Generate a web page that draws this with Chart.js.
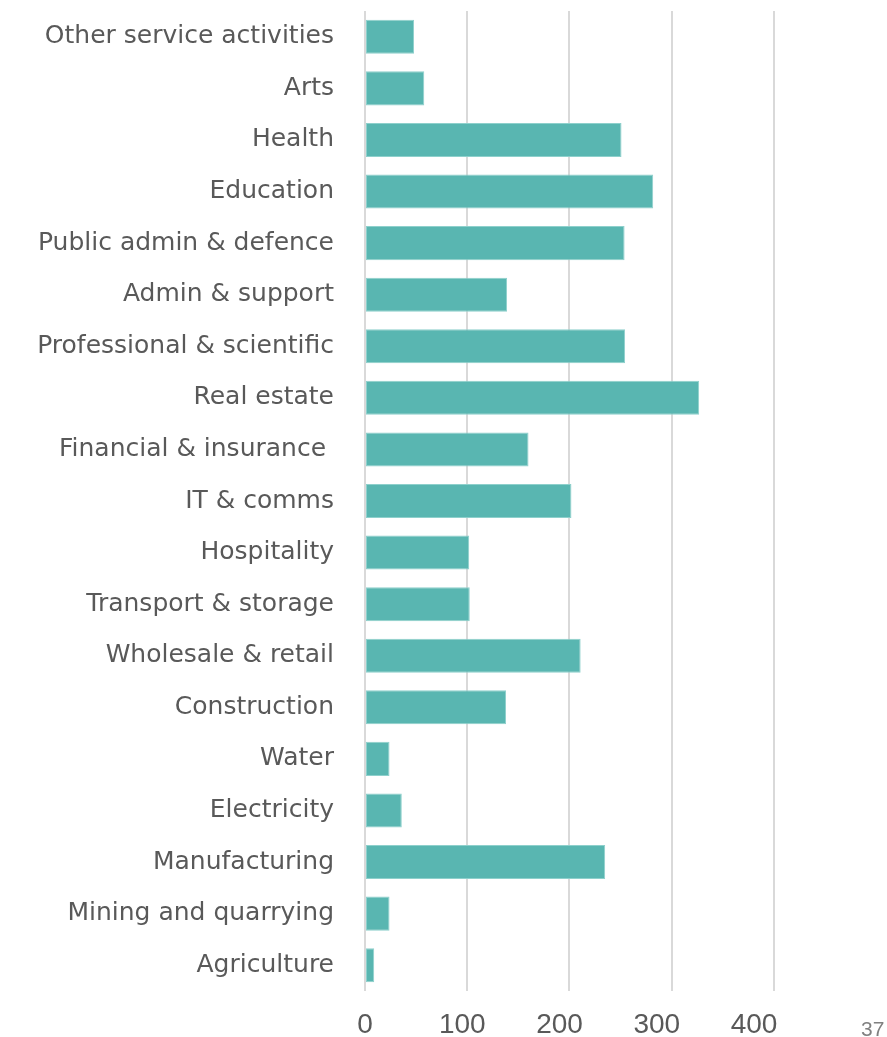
<!DOCTYPE html>
<html>
<head>
<meta charset="utf-8">
<script src="https://cdn.jsdelivr.net/npm/chart.js@4/dist/chart.umd.min.js"></script>
<style>
  html, body { margin: 0; padding: 0; background: #ffffff; overflow: hidden; }
  #wrap { position: relative; width: 887px; height: 1037px; }
  #page { position: absolute; left: 861px; top: 1017px; font-family: "Liberation Sans", sans-serif; font-size: 21px; color: #808080; }
</style>
</head>
<body>
<div id="wrap">
  <canvas id="c" width="887" height="1037"></canvas>
  <div id="page">37</div>
</div>
<script>
const categories = [
  "Other service activities",
  "Arts",
  "Health",
  "Education",
  "Public admin & defence",
  "Admin & support",
  "Professional & scientific",
  "Real estate",
  "Financial & insurance ",
  "IT & comms",
  "Hospitality",
  "Transport & storage",
  "Wholesale & retail",
  "Construction",
  "Water",
  "Electricity",
  "Manufacturing",
  "Mining and quarrying",
  "Agriculture"
];
const values = [48, 58, 251, 282, 254, 139, 254.5, 327, 160, 202, 102, 102.5, 211, 138, 24, 36, 235, 24, 9];
const tickValues = [0, 100, 200, 300, 400];

const PLOT_LEFT = 365;
const PAD_LEFT = 0;

new Chart(document.getElementById('c'), {
  type: 'bar',
  data: {
    labels: categories,
    datasets: [{
      data: values,
      backgroundColor: '#59b6b1',
      borderColor: '#8ed0cc',
      borderWidth: 1,
      borderSkipped: false,
      barPercentage: 0.66,
      categoryPercentage: 1.0,
      xAxisID: 'x'
    }]
  },
  options: {
    indexAxis: 'y',
    responsive: false,
    animation: false,
    devicePixelRatio: 1,
    layout: { padding: { top: 11, right: 11, bottom: 0, left: PAD_LEFT } },
    plugins: { legend: { display: false }, tooltip: { enabled: false } },
    scales: {
      y: {
        grid: { display: false, drawTicks: false },
        border: { display: false },
        ticks: {
          color: '#595959',
          font: { family: "DejaVu Sans", size: 25 },
          padding: 31
        },
        afterFit: (s) => {
          s.width = PLOT_LEFT - PAD_LEFT;
          s.paddingTop = 0; s.paddingBottom = 0;
        }
      },
      x: {
        position: 'bottom',
        min: 0,
        max: 500,
        grid: {
          color: (ctx) => (ctx.tick && tickValues.includes(ctx.tick.value)) ? '#d9d9d9' : 'rgba(0,0,0,0)',
          lineWidth: 2,
          drawTicks: false
        },
        border: { display: false },
        ticks: { display: false, stepSize: 100 },
        afterFit: (s) => { s.height = 0; s.paddingLeft = 0; s.paddingRight = 0; }
      },
      x2: {
        type: 'linear',
        position: 'bottom',
        min: 0,
        max: 525.4,
        grid: { display: false, drawTicks: false },
        border: { display: false },
        ticks: {
          stepSize: 100,
          color: '#595959',
          font: { family: "Liberation Sans", size: 28 },
          padding: 17,
          callback: (v) => tickValues.includes(v) ? String(v) : ''
        },
        afterFit: (s) => { s.height = 46; s.paddingLeft = 0; s.paddingRight = 0; }
      }
    }
  }
});
</script>
</body>
</html>
